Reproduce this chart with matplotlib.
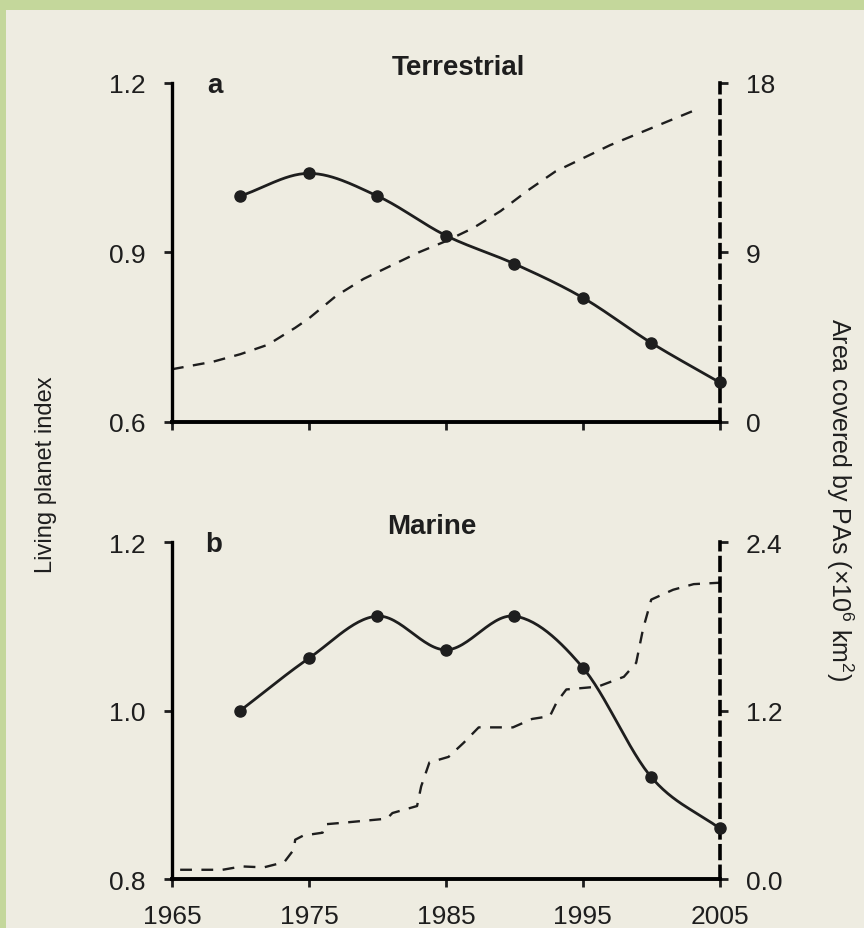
import matplotlib
matplotlib.use("Agg")
import matplotlib.pyplot as plt
import numpy as np
from matplotlib.patches import Rectangle

plt.rcParams['font.family'] = ['Liberation Sans', 'DejaVu Sans']
plt.rcParams['mathtext.fontset'] = 'custom'
plt.rcParams['mathtext.rm'] = 'Liberation Sans'
plt.rcParams['mathtext.it'] = 'Liberation Sans:italic'

# living planet index (points every 5 years)
lpi_years = np.array([1970, 1975, 1980, 1985, 1990, 1995, 2000, 2005])
lpi_terr = np.array([1.00, 1.04, 1.00, 0.93, 0.88, 0.82, 0.74, 0.67])
lpi_mar = np.array([1.00, 1.062, 1.112, 1.072, 1.112, 1.051, 0.921, 0.860])

# area covered by protected areas (x10^6 km2)
pa_terr_years = np.array([1965, 1968, 1970, 1972, 1974, 1975, 1977, 1979, 1981, 1983,
                          1985, 1987, 1989, 1991, 1993, 1995, 1997, 1999, 2001, 2003])
pa_terr = np.array([2.8, 3.2, 3.6, 4.1, 5.0, 5.5, 6.7, 7.6, 8.3, 9.0,
                    9.6, 10.3, 11.2, 12.3, 13.3, 14.0, 14.7, 15.3, 15.9, 16.5])

pa_mar_years = np.array([1965.6, 1968.7, 1970.1, 1971.7, 1973.2, 1973.9, 1974.0, 1974.6,
                         1976.0, 1976.2, 1977.4, 1980.7, 1981.1, 1982.9, 1983.2, 1983.8,
                         1985.2, 1986.3, 1987.4, 1989.9, 1991.3, 1992.6, 1993.1, 1993.8,
                         1996.1, 1998.0, 1998.9, 1999.4, 2000.0, 2001.6, 2003.1, 2005.0])
pa_mar = np.array([0.066, 0.066, 0.09, 0.083, 0.12, 0.21, 0.28, 0.31,
                   0.33, 0.39, 0.40, 0.43, 0.47, 0.52, 0.66, 0.83,
                   0.87, 0.97, 1.08, 1.08, 1.14, 1.16, 1.26, 1.35,
                   1.37, 1.44, 1.54, 1.78, 1.99, 2.06, 2.10, 2.11])

xticks = [1965, 1975, 1985, 1995, 2005]


def smooth(x, y, n=30):
    # cubic hermite (catmull-rom) through the points
    m = np.gradient(y, x)
    xs, ys = [], []
    for i in range(len(x) - 1):
        h = x[i + 1] - x[i]
        t = np.linspace(0, 1, n)
        h00 = 2 * t**3 - 3 * t**2 + 1
        h10 = t**3 - 2 * t**2 + t
        h01 = -2 * t**3 + 3 * t**2
        h11 = t**3 - t**2
        xs.append(x[i] + t * h)
        ys.append(h00 * y[i] + h10 * h * m[i] + h01 * y[i + 1] + h11 * h * m[i + 1])
    return np.concatenate(xs), np.concatenate(ys)


green = "#c4d79b"
beige = "#eeece1"
ink = "#1e1e1e"

fig = plt.figure(figsize=(8.64, 9.29), dpi=100)
fig.patch.set_facecolor(green)
fig.add_artist(Rectangle((6 / 864, 0), 1, 1 - 11 / 929, transform=fig.transFigure,
                         facecolor=beige, edgecolor="none", zorder=0))

panels = [
    dict(rect=[0.199, 0.5447, 0.634, 0.3649], lpi=lpi_terr, pay=pa_terr_years, pa=pa_terr,
         ylim=(0.6, 1.2), yticks=[0.6, 0.9, 1.2], rlim=(0, 18), rticks=[0, 9, 18],
         rfmt="{:.0f}", xlabels=False),
    dict(rect=[0.199, 0.0527, 0.634, 0.3628], lpi=lpi_mar, pay=pa_mar_years, pa=pa_mar,
         ylim=(0.8, 1.2), yticks=[0.8, 1.0, 1.2], rlim=(0, 2.4), rticks=[0, 1.2, 2.4],
         rfmt="{:.1f}", xlabels=True),
]

for p in panels:
    ax = fig.add_axes(p["rect"])
    ax.set_facecolor("none")
    ax2 = ax.twinx()
    ax2.set_facecolor("none")

    ax2.plot(p["pay"], p["pa"], color=ink, lw=1.7, linestyle=(0, (5, 4)),
             clip_on=False, zorder=2)
    sx, sy = smooth(lpi_years.astype(float), p["lpi"])
    ax.plot(sx, sy, color=ink, lw=2.0, zorder=3)
    ax.plot(lpi_years, p["lpi"], "o", color=ink, ms=8, zorder=4, clip_on=False)
    ax.set_zorder(ax2.get_zorder() + 1)

    ax.set_xlim(1965, 2005)
    ax.set_ylim(*p["ylim"])
    ax2.set_ylim(*p["rlim"])
    ax.set_xticks(xticks)
    ax.set_yticks(p["yticks"])
    ax.set_yticklabels(["{:.1f}".format(v) for v in p["yticks"]])
    ax2.set_yticks(p["rticks"])
    ax2.set_yticklabels([p["rfmt"].format(v) for v in p["rticks"]])
    if not p["xlabels"]:
        ax.set_xticklabels([])

    for s in ["top", "right"]:
        ax.spines[s].set_visible(False)
    for s in ["top", "left", "bottom"]:
        ax2.spines[s].set_visible(False)
    ax.spines["left"].set_linewidth(2.4)
    ax.spines["bottom"].set_linewidth(2.8)
    ax2.spines["right"].set_linewidth(2.6)
    ax2.spines["right"].set_linestyle((0, (3.5, 2.2)))
    for a in (ax, ax2):
        a.tick_params(direction="out", length=6, width=2, colors=ink,
                      labelsize=19, pad=13)
    ax.tick_params(axis="x", pad=12)

fig.text(0.531, 0.927, "Terrestrial", fontsize=20, fontweight="bold", color=ink,
         ha="center", va="center")
fig.text(0.5, 0.433, "Marine", fontsize=20, fontweight="bold", color=ink,
         ha="center", va="center")
fig.text(0.240, 0.907, "a", fontsize=20, fontweight="bold", color=ink, ha="left", va="center")
fig.text(0.237, 0.413, "b", fontsize=20, fontweight="bold", color=ink, ha="left", va="center")

fig.text(0.053, 0.489, "Living planet index", fontsize=17, rotation=90, color=ink,
         ha="center", va="center")
fig.text(0.972, 0.462, r"Area covered by PAs ($\times$10$^6$ km$^2$)", fontsize=18,
         rotation=-90, color=ink, ha="center", va="center")

fig.savefig("out.png", dpi=100, facecolor=fig.get_facecolor())
